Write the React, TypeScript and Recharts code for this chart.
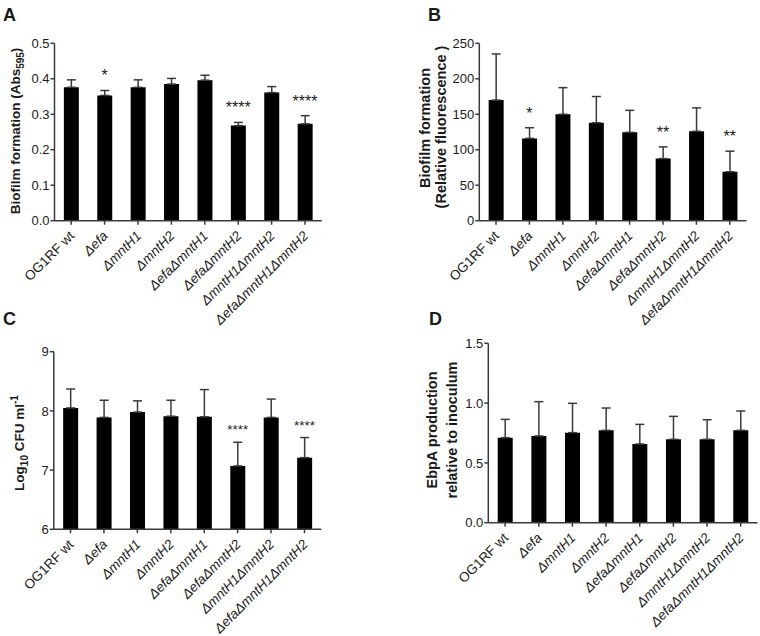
import React from "react";
import {
  ComposedChart,
  Bar,
  Line,
  XAxis,
  YAxis,
  ErrorBar,
  LabelList,
} from "recharts";

const strains = [
  "OG1RF wt",
  "Δefa",
  "ΔmntH1",
  "ΔmntH2",
  "ΔefaΔmntH1",
  "ΔefaΔmntH2",
  "ΔmntH1ΔmntH2",
  "ΔefaΔmntH1ΔmntH2",
];

// A: biofilm, Abs595
const absMean = [0.376, 0.353, 0.376, 0.385, 0.396, 0.268, 0.361, 0.273];
const absTop = [0.397, 0.367, 0.397, 0.401, 0.41, 0.277, 0.378, 0.296];
const absSig = ["", "*", "", "", "", "****", "", "****"];
const absTicks = [0, 0.1, 0.2, 0.3, 0.4, 0.5];

// B: biofilm, relative fluorescence
const fluoMean = [170, 116, 150, 138, 124.5, 87.5, 126, 69];
const fluoTop = [235, 131, 187.5, 175, 155.5, 104, 159, 98];
const fluoSig = ["", "*", "", "", "", "**", "", "**"];
const fluoTicks = [0, 50, 100, 150, 200, 250];

// C: log10 CFU/ml
const cfuMean = [8.05, 7.89, 7.98, 7.91, 7.9, 7.07, 7.89, 7.21];
const cfuTop = [8.37, 8.18, 8.17, 8.18, 8.36, 7.47, 8.2, 7.55];
const cfuSig = ["", "", "", "", "", "****", "", "****"];
const cfuTicks = [6, 7, 8, 9];

// D: EbpA production
const ebpMean = [0.711, 0.725, 0.753, 0.772, 0.658, 0.697, 0.697, 0.772];
const ebpTop = [0.864, 1.012, 0.998, 0.959, 0.822, 0.889, 0.861, 0.934];
const ebpSig = ["", "", "", "", "", "", "", ""];
const ebpTicks = [0, 0.5, 1.0, 1.5];

const FONT = "Arial, 'Liberation Sans', Helvetica, sans-serif";
const AXIS = "#3a3a3a";
const INK = "#1a1a1a";

const buildRows = (mean: number[], top: number[], sig: string[]) =>
  strains.map((name, i) => ({
    name,
    mean: mean[i],
    top: top[i],
    err: [0, top[i] - mean[i]],
    sig: sig[i],
  }));

// rotated strain names, italic for the Δ mutants
const StrainTick = (props: any) => {
  const { x, y, payload } = props;
  const label: string = payload.value;
  return (
    <g transform={`translate(${x + 4}, ${y + 10}) rotate(-45)`}>
      <text
        x={0}
        y={0}
        textAnchor="end"
        fontSize={13.5}
        fill={INK}
        fontStyle={label.startsWith("Δ") ? "italic" : "normal"}
      >
        {label}
      </text>
    </g>
  );
};

interface PanelProps {
  left: number;
  top: number;
  width: number;
  height: number;
  yWidth: number;
  marginTop: number;
  marginRight: number;
  xHeight: number;
  rows: any[];
  domain: [number, number];
  ticks: number[];
  decimals: number;
  sigFont: number;
  sigOffset: number;
}

const Panel = (p: PanelProps) => (
  <div style={{ position: "absolute", left: p.left, top: p.top }}>
    <ComposedChart
      width={p.width}
      height={p.height}
      data={p.rows}
      margin={{ top: p.marginTop, right: p.marginRight, bottom: 0, left: 0 }}
      barCategoryGap="28%"
    >
      <XAxis
        dataKey="name"
        interval={0}
        height={p.xHeight}
        axisLine={{ stroke: AXIS, strokeWidth: 1.5 }}
        tickLine={{ stroke: AXIS, strokeWidth: 1.5 }}
        tickSize={4}
        tickMargin={2}
        tick={<StrainTick />}
      />
      <YAxis
        width={p.yWidth}
        domain={p.domain}
        ticks={p.ticks}
        allowDataOverflow
        axisLine={{ stroke: AXIS, strokeWidth: 1.5 }}
        tickLine={{ stroke: AXIS, strokeWidth: 1.5 }}
        tickSize={4}
        tickMargin={1}
        tick={{ fill: INK, fontSize: 13 }}
        tickFormatter={(v: number) => v.toFixed(p.decimals)}
      />
      <Bar dataKey="mean" fill="#000" isAnimationActive={false}>
        <ErrorBar
          dataKey="err"
          direction="y"
          width={4.5}
          stroke={AXIS}
          strokeWidth={1.5}
          isAnimationActive={false}
        />
      </Bar>
      <Line
        dataKey="top"
        stroke="none"
        dot={false}
        activeDot={false}
        isAnimationActive={false}
      >
        <LabelList
          dataKey="sig"
          position="top"
          offset={p.sigOffset}
          fontSize={p.sigFont}
          fill={INK}
        />
      </Line>
    </ComposedChart>
  </div>
);

export default function App() {
  return (
    <div
      style={{
        position: "absolute",
        left: 0,
        top: 0,
        width: 760,
        height: 636,
        background: "#fff",
        fontFamily: FONT,
        overflow: "hidden",
      }}
    >
      <Panel
        left={0}
        top={0}
        width={380}
        height={340}
        yWidth={54.5}
        marginTop={43.3}
        marginRight={58.3}
        xHeight={119.3}
        rows={buildRows(absMean, absTop, absSig)}
        domain={[0, 0.5]}
        ticks={absTicks}
        decimals={1}
        sigFont={16}
        sigOffset={9}
      />
      <Panel
        left={380}
        top={0}
        width={380}
        height={340}
        yWidth={99.3}
        marginTop={43.3}
        marginRight={13.5}
        xHeight={119.3}
        rows={buildRows(fluoMean, fluoTop, fluoSig)}
        domain={[0, 250]}
        ticks={fluoTicks}
        decimals={0}
        sigFont={16}
        sigOffset={9}
      />
      <Panel
        left={0}
        top={320}
        width={380}
        height={316}
        yWidth={53.8}
        marginTop={31.7}
        marginRight={58.8}
        xHeight={106.7}
        rows={buildRows(cfuMean, cfuTop, cfuSig)}
        domain={[6, 9]}
        ticks={cfuTicks}
        decimals={0}
        sigFont={13.5}
        sigOffset={8}
      />
      <Panel
        left={380}
        top={320}
        width={380}
        height={316}
        yWidth={108.3}
        marginTop={23.3}
        marginRight={2.5}
        xHeight={113.3}
        rows={buildRows(ebpMean, ebpTop, ebpSig)}
        domain={[0, 1.5]}
        ticks={ebpTicks}
        decimals={1}
        sigFont={13.5}
        sigOffset={8}
      />

      {/* panel letters and axis titles */}
      <svg
        width={760}
        height={636}
        style={{ position: "absolute", left: 0, top: 0, pointerEvents: "none" }}
        fontFamily={FONT}
        fill={INK}
        fontWeight="bold"
      >
        <text x={3} y={21} fontSize={18}>A</text>
        <text x={428} y={21} fontSize={18}>B</text>
        <text x={3} y={325} fontSize={18}>C</text>
        <text x={429} y={325} fontSize={18}>D</text>

        <text x={20} y={131} fontSize={13.5} textAnchor="middle" transform="rotate(-90 20 131)">
          Biofilm formation (Abs
          <tspan dy={4} fontSize={10}>595</tspan>
          <tspan dy={-4}>)</tspan>
        </text>

        <text x={430} y={128} fontSize={14.5} textAnchor="middle" transform="rotate(-90 430 128)">
          Biofilm formation
        </text>
        <text x={446} y={127} fontSize={14.5} textAnchor="middle" transform="rotate(-90 446 127)">
          (Relative fluorescence )
        </text>

        <text x={24} y={443} fontSize={13.5} textAnchor="middle" transform="rotate(-90 24 443)">
          Log
          <tspan dy={4} fontSize={10}>10</tspan>
          <tspan dy={-4}> CFU ml</tspan>
          <tspan dy={-6} fontSize={10}>-1</tspan>
        </text>

        <text x={437} y={430} fontSize={14.5} textAnchor="middle" transform="rotate(-90 437 430)">
          EbpA production
        </text>
        <text x={457} y={430} fontSize={14.5} textAnchor="middle" transform="rotate(-90 457 430)">
          relative to inoculum
        </text>
      </svg>
    </div>
  );
}
